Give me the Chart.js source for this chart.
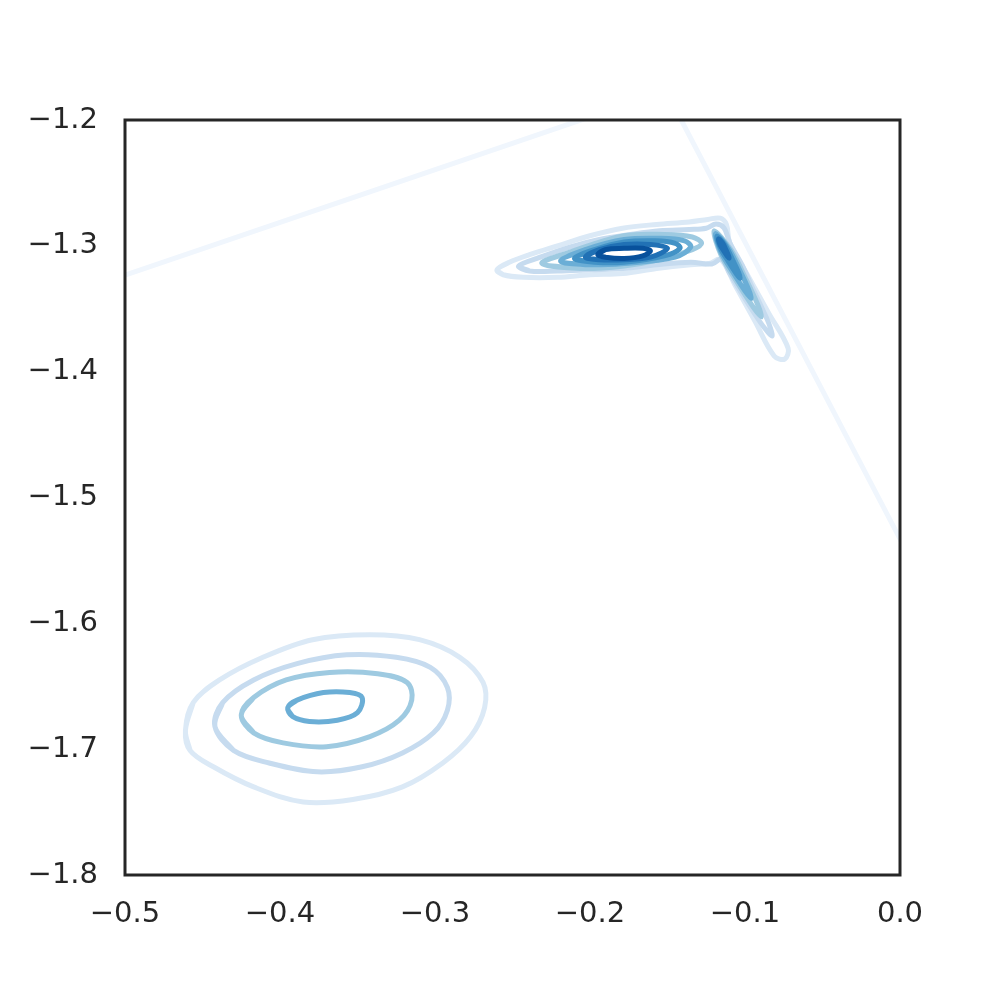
<!DOCTYPE html>
<html>
<head>
<meta charset="utf-8">
<script src="https://cdn.jsdelivr.net/npm/chart.js@4"></script>
<style>
  html, body { margin: 0; padding: 0; background: #ffffff; }
  canvas { display: block; }
</style>
</head>
<body>
<canvas id="kdeChart" width="1000" height="1000"></canvas>
<script>
// tick values / labels
const xTickValues = [-0.5, -0.4, -0.3, -0.2, -0.1, 0.0];
const xTickLabels = ["\u22120.5", "\u22120.4", "\u22120.3", "\u22120.2", "\u22120.1", "0.0"];
const yTickValues = [-1.8, -1.7, -1.6, -1.5, -1.4, -1.3, -1.2];
const yTickLabels = ["\u22121.8", "\u22121.7", "\u22121.6", "\u22121.5", "\u22121.4", "\u22121.3", "\u22121.2"];

// contour level colours (Blues), lowest level first
const levelColors = ["#f0f6fd", "#dbe9f6", "#c6dbef", "#9ecae1", "#6baed6", "#4292c6", "#2171b5", "#08519c"];

// lowest level: only two faint edges cross the view
const faintEdgeA = [[-0.503, -1.3245], [-0.201, -1.198]];
const faintEdgeB = [[-0.142, -1.198], [0.003, -1.540]];

// lower-left blob
const lowerL2 = [[-0.461, -1.685], [-0.456, -1.663], [-0.439, -1.645], [-0.411, -1.627], [-0.379, -1.613], [-0.342, -1.609],
  [-0.310, -1.613], [-0.284, -1.627], [-0.269, -1.647], [-0.268, -1.667], [-0.277, -1.690], [-0.295, -1.711],
  [-0.321, -1.730], [-0.353, -1.740], [-0.385, -1.742], [-0.417, -1.730], [-0.443, -1.714], [-0.458, -1.701]];
const lowerL3 = [[-0.442, -1.682], [-0.437, -1.663], [-0.417, -1.645], [-0.389, -1.632], [-0.357, -1.625], [-0.325, -1.627],
  [-0.303, -1.635], [-0.292, -1.651], [-0.292, -1.669], [-0.301, -1.687], [-0.321, -1.703], [-0.347, -1.714],
  [-0.376, -1.718], [-0.407, -1.711], [-0.430, -1.701]];
const lowerL4 = [[-0.425, -1.673], [-0.417, -1.659], [-0.396, -1.645], [-0.368, -1.639], [-0.337, -1.640], [-0.318, -1.647],
  [-0.315, -1.661], [-0.323, -1.677], [-0.342, -1.690], [-0.370, -1.698], [-0.398, -1.695], [-0.417, -1.687]];
const lowerL5 = [[-0.395, -1.667], [-0.389, -1.661], [-0.372, -1.655], [-0.355, -1.655], [-0.347, -1.659], [-0.350, -1.671],
  [-0.363, -1.677], [-0.381, -1.678], [-0.392, -1.674]];

// upper boomerang (horizontal arm "a", slanted arm "b")
const upperL2 = [[-0.260, -1.319], [-0.252, -1.313], [-0.239, -1.307], [-0.221, -1.300], [-0.200, -1.292], [-0.179, -1.286],
  [-0.157, -1.283], [-0.136, -1.281], [-0.124, -1.279], [-0.116, -1.278], [-0.112, -1.283], [-0.1098, -1.2977],
  [-0.0973, -1.3255], [-0.0848, -1.3533], [-0.0722, -1.3813], [-0.0743, -1.3899], [-0.0812, -1.3875],
  [-0.0938, -1.3594], [-0.1063, -1.3316], [-0.1157, -1.3108], [-0.123, -1.314], [-0.135, -1.315],
  [-0.157, -1.318], [-0.179, -1.322], [-0.200, -1.323], [-0.221, -1.325], [-0.243, -1.325], [-0.256, -1.323]];
const upperL3 = [[-0.246, -1.316], [-0.232, -1.309], [-0.213, -1.301], [-0.194, -1.295], [-0.174, -1.291], [-0.155, -1.288],
  [-0.136, -1.287], [-0.125, -1.286], [-0.1187, -1.2827], [-0.1135, -1.2858], [-0.1097, -1.2978], [-0.1019, -1.3152],
  [-0.0953, -1.3332], [-0.0884, -1.3512], [-0.0845, -1.3621], [-0.0825, -1.3717], [-0.0879, -1.3645],
  [-0.0934, -1.3547], [-0.1021, -1.3378], [-0.1104, -1.3207], [-0.1151, -1.3104], [-0.1213, -1.3144],
  [-0.135, -1.313], [-0.157, -1.315], [-0.179, -1.318], [-0.200, -1.319], [-0.221, -1.320], [-0.239, -1.320]];
const upperL4a = [[-0.231, -1.314], [-0.213, -1.305], [-0.178, -1.292], [-0.152, -1.291], [-0.134, -1.293], [-0.128, -1.298],
  [-0.134, -1.303], [-0.155, -1.311], [-0.178, -1.316], [-0.206, -1.318]];
const upperL4b = [[-0.1199, -1.2882], [-0.1091, -1.3031], [-0.0990, -1.3274], [-0.0916, -1.3472], [-0.0893, -1.3564],
  [-0.0944, -1.3492], [-0.1041, -1.3308], [-0.1154, -1.3074]];
const upperL5a = [[-0.219, -1.312], [-0.203, -1.303], [-0.178, -1.295], [-0.155, -1.294], [-0.139, -1.296], [-0.135, -1.301],
  [-0.145, -1.309], [-0.178, -1.314], [-0.203, -1.315]];
const upperL5b = [[-0.1190, -1.2903], [-0.1108, -1.3016], [-0.1032, -1.3199], [-0.0976, -1.3349], [-0.0959, -1.3418],
  [-0.0997, -1.3363], [-0.1070, -1.3225], [-0.1156, -1.3048]];
const upperL6a = [[-0.210, -1.310], [-0.197, -1.303], [-0.178, -1.297], [-0.158, -1.296], [-0.145, -1.298], [-0.142, -1.302],
  [-0.152, -1.308], [-0.178, -1.313], [-0.197, -1.313]];
const upperL6b = [[-0.1181, -1.2924], [-0.1127, -1.2997], [-0.1078, -1.3116], [-0.1041, -1.3213], [-0.1031, -1.3258],
  [-0.1056, -1.3222], [-0.1103, -1.3133], [-0.1159, -1.3018]];
const upperL7a = [[-0.203, -1.309], [-0.194, -1.303], [-0.178, -1.299], [-0.161, -1.299], [-0.150, -1.302], [-0.161, -1.309],
  [-0.178, -1.311], [-0.194, -1.311]];
const upperL7b = [[-0.1171, -1.2945], [-0.1145, -1.2977], [-0.1123, -1.3032], [-0.1107, -1.3077], [-0.1102, -1.3098],
  [-0.1114, -1.3082], [-0.1137, -1.3041], [-0.1162, -1.2989]];
const upperL8 = [[-0.195, -1.307], [-0.190, -1.303], [-0.178, -1.302], [-0.166, -1.302], [-0.161, -1.304], [-0.166, -1.308],
  [-0.178, -1.310], [-0.190, -1.309]];

// which level each contour belongs to, and whether it is a closed ring
const contours = [
  { pts: faintEdgeA, level: 0, closed: false },
  { pts: faintEdgeB, level: 0, closed: false },
  { pts: lowerL2, level: 1, closed: true },
  { pts: lowerL3, level: 2, closed: true },
  { pts: lowerL4, level: 3, closed: true },
  { pts: lowerL5, level: 4, closed: true },
  { pts: upperL2, level: 1, closed: true },
  { pts: upperL3, level: 2, closed: true },
  { pts: upperL4a, level: 3, closed: true },
  { pts: upperL4b, level: 3, closed: true },
  { pts: upperL5a, level: 4, closed: true },
  { pts: upperL5b, level: 4, closed: true },
  { pts: upperL6a, level: 5, closed: true },
  { pts: upperL6b, level: 5, closed: true },
  { pts: upperL7a, level: 6, closed: true },
  { pts: upperL7b, level: 6, closed: true },
  { pts: upperL8, level: 7, closed: true },
];

// wrap a ring so the spline runs smoothly through the closing point
function toPoints(c) {
  let p = c.pts;
  if (c.closed) p = [p[p.length - 1], ...p, p[0], p[1]];
  return p.map(([x, y]) => ({ x, y }));
}

const textColor = "#262626";
const tickFont = { family: "DejaVu Sans", size: 29 };

const framePlugin = {
  id: "frame",
  afterDraw(chart) {
    const { ctx, chartArea: a } = chart;
    ctx.save();
    ctx.strokeStyle = textColor;
    ctx.lineWidth = 3;
    ctx.strokeRect(a.left, a.top, a.right - a.left, a.bottom - a.top);
    ctx.restore();
  },
};

new Chart(document.getElementById("kdeChart").getContext("2d"), {
  type: "scatter",
  data: {
    datasets: contours.map((c) => ({
      data: toPoints(c),
      showLine: true,
      borderColor: levelColors[c.level],
      borderWidth: 5,
      pointRadius: 0,
      fill: false,
      tension: 0.35,
      clip: 0,
      order: 10 - c.level,
    })),
  },
  options: {
    responsive: false,
    animation: false,
    events: [],
    layout: { padding: { top: 120, right: 100, left: 0, bottom: 0 } },
    plugins: { legend: { display: false }, tooltip: { enabled: false } },
    scales: {
      x: {
        type: "linear",
        min: -0.5,
        max: 0.0,
        afterBuildTicks: (axis) => { axis.ticks = xTickValues.map((v) => ({ value: v })); },
        afterFit: (axis) => { axis.height = 125; },
        grid: { display: false, drawTicks: false },
        border: { display: false },
        ticks: { font: tickFont, color: textColor, padding: 22, maxRotation: 0,
          callback: (v, i) => xTickLabels[i] },
      },
      y: {
        type: "linear",
        min: -1.8,
        max: -1.2,
        afterBuildTicks: (axis) => { axis.ticks = yTickValues.map((v) => ({ value: v })); },
        afterFit: (axis) => { axis.width = 125; },
        grid: { display: false, drawTicks: false },
        border: { display: false },
        ticks: { font: tickFont, color: textColor, padding: 27,
          callback: (v, i) => yTickLabels[i] },
      },
    },
  },
  plugins: [framePlugin],
});
</script>
</body>
</html>
